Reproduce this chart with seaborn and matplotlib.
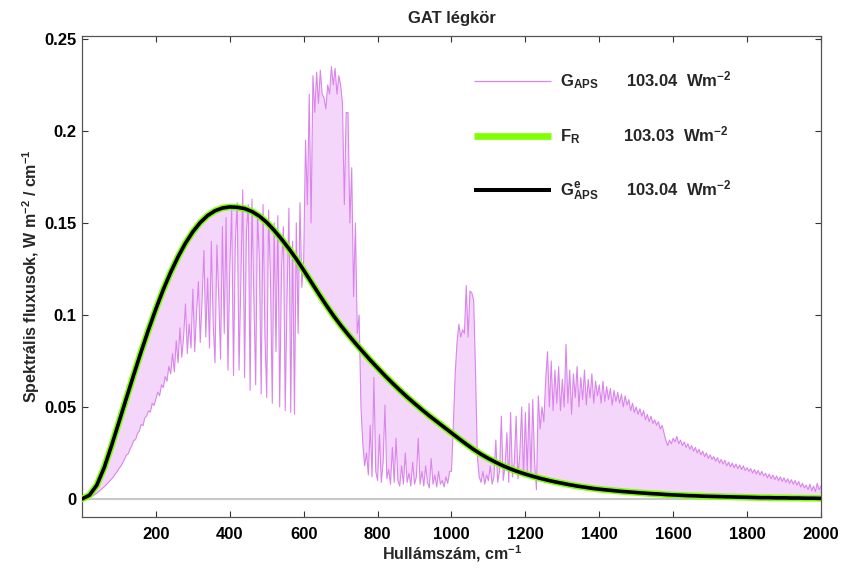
import numpy as np
import pandas as pd
import matplotlib
matplotlib.use("Agg")
import matplotlib.pyplot as plt
import seaborn as sns

# wavenumber grids (cm^-1)
nu_fine = np.arange(0, 2001, 5)
nu_coarse = np.arange(0, 2001, 20)

# G_APS spectrum, every 5 cm^-1 (rows of 50 cm^-1)
g_aps = [
    0.0000, 0.0000, 0.0002, 0.0004, 0.0008, 0.0012, 0.0018, 0.0024, 0.0031, 0.0040,
    0.0048, 0.0057, 0.0066, 0.0076, 0.0086, 0.0097, 0.0108, 0.0120, 0.0135, 0.0148,
    0.0165, 0.0178, 0.0195, 0.0215, 0.0238, 0.0245, 0.0272, 0.0290, 0.0318, 0.0322,
    0.0355, 0.0368, 0.0405, 0.0398, 0.0440, 0.0452, 0.0478, 0.0472, 0.0520, 0.0508,
    0.0545, 0.0580, 0.0560, 0.0620, 0.0605, 0.0665, 0.0640, 0.0720, 0.0680, 0.0790,
    0.0690, 0.0860, 0.0740, 0.0930, 0.0770, 0.0880, 0.1060, 0.0790, 0.0950, 0.0820,
    0.1140, 0.0800, 0.1010, 0.1180, 0.0850, 0.1080, 0.1350, 0.0880, 0.1200, 0.0820,
    0.1400, 0.0950, 0.0740, 0.1380, 0.1100, 0.0760, 0.1480, 0.0900, 0.1530, 0.0700,
    0.1250, 0.1580, 0.0670, 0.1400, 0.1610, 0.0700, 0.1200, 0.1680, 0.0660, 0.1450,
    0.1600, 0.0590, 0.1630, 0.1100, 0.0620, 0.1550, 0.1300, 0.0570, 0.1600, 0.0900,
    0.0550, 0.1570, 0.1200, 0.0520, 0.1500, 0.0800, 0.1540, 0.0500, 0.1250, 0.1480,
    0.0480, 0.1100, 0.1580, 0.0470, 0.1400, 0.0460, 0.1500, 0.0900, 0.1610, 0.1150,
    0.1300, 0.1950, 0.1600, 0.2200, 0.1500, 0.2300, 0.2100, 0.2320, 0.2150, 0.2330,
    0.2200, 0.2180, 0.2120, 0.2250, 0.2200, 0.2350, 0.2250, 0.2340, 0.2200, 0.2300,
    0.2250, 0.2150, 0.1600, 0.2100, 0.2100, 0.1500, 0.1800, 0.1100, 0.1500, 0.0900,
    0.1000, 0.0500, 0.0300, 0.0180, 0.0250, 0.0130, 0.0400, 0.0120, 0.0660, 0.0150,
    0.0100, 0.0350, 0.0090, 0.0200, 0.0510, 0.0110, 0.0160, 0.0080, 0.0280, 0.0090,
    0.0330, 0.0100, 0.0070, 0.0180, 0.0080, 0.0250, 0.0090, 0.0140, 0.0070, 0.0200,
    0.0080, 0.0120, 0.0330, 0.0080, 0.0150, 0.0070, 0.0180, 0.0090, 0.0060, 0.0220,
    0.0080, 0.0130, 0.0065, 0.0150, 0.0080, 0.0100, 0.0065, 0.0120, 0.0085, 0.0150,
    0.0150, 0.0400, 0.0680, 0.0850, 0.0950, 0.0880, 0.0920, 0.0900, 0.1160, 0.0880,
    0.1130, 0.1120, 0.1080, 0.0700, 0.0230, 0.0120, 0.0090, 0.0150, 0.0080, 0.0130,
    0.0100, 0.0180, 0.0080, 0.0120, 0.0320, 0.0090, 0.0150, 0.0450, 0.0100, 0.0180,
    0.0360, 0.0090, 0.0470, 0.0120, 0.0200, 0.0450, 0.0110, 0.0250, 0.0500, 0.0120,
    0.0470, 0.0150, 0.0520, 0.0130, 0.0540, 0.0200, 0.0050, 0.0560, 0.0380, 0.0500,
    0.0420, 0.0650, 0.0800, 0.0500, 0.0750, 0.0480, 0.0700, 0.0520, 0.0720, 0.0480,
    0.0650, 0.0500, 0.0840, 0.0520, 0.0700, 0.0460, 0.0680, 0.0550, 0.0720, 0.0500,
    0.0660, 0.0540, 0.0700, 0.0510, 0.0650, 0.0550, 0.0680, 0.0520, 0.0640, 0.0560,
    0.0620, 0.0520, 0.0640, 0.0530, 0.0610, 0.0540, 0.0600, 0.0510, 0.0590, 0.0530,
    0.0580, 0.0520, 0.0570, 0.0500, 0.0560, 0.0510, 0.0540, 0.0480, 0.0520, 0.0470,
    0.0500, 0.0460, 0.0490, 0.0450, 0.0480, 0.0430, 0.0460, 0.0420, 0.0450, 0.0410,
    0.0430, 0.0400, 0.0420, 0.0380, 0.0400, 0.0360, 0.0320, 0.0290, 0.0320, 0.0300,
    0.0330, 0.0310, 0.0340, 0.0300, 0.0320, 0.0290, 0.0310, 0.0280, 0.0300, 0.0270,
    0.0290, 0.0260, 0.0280, 0.0250, 0.0270, 0.0240, 0.0260, 0.0230, 0.0250, 0.0220,
    0.0240, 0.0215, 0.0230, 0.0205, 0.0225, 0.0195, 0.0215, 0.0190, 0.0210, 0.0180,
    0.0200, 0.0175, 0.0195, 0.0170, 0.0190, 0.0165, 0.0185, 0.0160, 0.0180, 0.0155,
    0.0170, 0.0150, 0.0165, 0.0140, 0.0160, 0.0135, 0.0155, 0.0130, 0.0150, 0.0125,
    0.0140, 0.0115, 0.0135, 0.0110, 0.0130, 0.0105, 0.0125, 0.0100, 0.0120, 0.0095,
    0.0115, 0.0090, 0.0110, 0.0085, 0.0105, 0.0080, 0.0100, 0.0075, 0.0095, 0.0065,
    0.0085, 0.0060, 0.0075, 0.0050, 0.0080, 0.0045, 0.0070, 0.0040, 0.0085, 0.0050,
    0.0070,
]

# G^e_APS (smooth curve), read every 20 cm^-1 (rows of 200 cm^-1)
g_aps_e = [
    0.0000, 0.0020, 0.0075, 0.0170, 0.0290, 0.0418, 0.0547, 0.0675, 0.0800, 0.0920,
    0.1033, 0.1138, 0.1232, 0.1316, 0.1390, 0.1452, 0.1502, 0.1540, 0.1566, 0.1581,
    0.1587, 0.1585, 0.1578, 0.1562, 0.1537, 0.1503, 0.1460, 0.1412, 0.1360, 0.1304,
    0.1243, 0.1180, 0.1117, 0.1056, 0.0998, 0.0944, 0.0894, 0.0846, 0.0800, 0.0755,
    0.0712, 0.0670, 0.0630, 0.0591, 0.0554, 0.0519, 0.0485, 0.0452, 0.0421, 0.0390,
    0.0359, 0.0328, 0.0298, 0.0269, 0.0243, 0.0220, 0.0199, 0.0180, 0.0163, 0.0148,
    0.0135, 0.0123, 0.0112, 0.0102, 0.0093, 0.0085, 0.0077, 0.0070, 0.0064, 0.0058,
    0.0053, 0.0049, 0.0045, 0.0041, 0.0038, 0.0035, 0.0032, 0.0029, 0.0027, 0.0024,
    0.0022, 0.0020, 0.0018, 0.0017, 0.0015, 0.0014, 0.0013, 0.0012, 0.0011, 0.0010,
    0.0009, 0.0008, 0.0007, 0.0007, 0.0006, 0.0006, 0.0005, 0.0005, 0.0004, 0.0004,
    0.0003,
]
# F_R lies on top of G^e_APS in the picture
f_r = list(g_aps_e)

legend_names = [r"G$_{\rm APS}$", r"F$_{\rm R}$", r"G$^{\rm e}_{\rm APS}$"]
legend_values = [r"103.04  Wm$^{-2}$", r"103.03  Wm$^{-2}$", r"103.04  Wm$^{-2}$"]

x_ticks = [200, 400, 600, 800, 1000, 1200, 1400, 1600, 1800, 2000]
y_ticks = [0, 0.05, 0.1, 0.15, 0.2, 0.25]
y_ticklabels = ["0", "0.05", "0.1", "0.15", "0.2", "0.25"]

pink = "#da85ec"
pink_fill = "#f4d6fa"
green = "#80ff00"

sns.set_theme(style="white")
plt.rcParams["font.family"] = ["Liberation Sans", "DejaVu Sans"]
plt.rcParams["font.weight"] = "bold"
plt.rcParams["mathtext.fontset"] = "custom"
plt.rcParams["mathtext.rm"] = "Liberation Sans:bold"
plt.rcParams["mathtext.it"] = "Liberation Sans:bold"
plt.rcParams["mathtext.bf"] = "Liberation Sans:bold"

fig = plt.figure(figsize=(8.42, 5.71), dpi=100)
ax = fig.add_axes([0.0974, 0.0946, 0.8776, 0.8424])

df_fine = pd.DataFrame({"nu": nu_fine, "g": g_aps})
df_coarse = pd.DataFrame({"nu": nu_coarse, "ge": g_aps_e, "fr": f_r})

# shaded region between the spectrum and the smooth curve
ax.fill(np.r_[nu_fine, nu_coarse[::-1]], np.r_[g_aps, g_aps_e[::-1]],
        color=pink_fill, lw=0, zorder=1)
ax.axhline(0, color="#c8c8c8", lw=1.5, zorder=1.5)

sns.lineplot(data=df_fine, x="nu", y="g", ax=ax, color=pink, lw=0.8, zorder=2)
sns.lineplot(data=df_coarse, x="nu", y="fr", ax=ax, color=green, lw=4.8, zorder=3)
sns.lineplot(data=df_coarse, x="nu", y="ge", ax=ax, color="black", lw=2.6, zorder=4)

ax.set_xlim(0, 2000)
ax.set_ylim(-0.0098, 0.2516)
ax.set_xticks(x_ticks)
ax.set_xticklabels([str(t) for t in x_ticks])
ax.set_yticks(y_ticks)
ax.set_yticklabels(y_ticklabels)
ax.tick_params(direction="in", length=4, width=0.8, colors="#333333",
               top=True, right=True, bottom=True, left=True, labelsize=12)
ax.tick_params(axis="x", pad=7)
ax.tick_params(axis="y", pad=4)
for lab in ax.get_xticklabels() + ax.get_yticklabels():
    lab.set_fontweight("bold")
    lab.set_color("black")
for sp in ax.spines.values():
    sp.set_color("#555555")
    sp.set_linewidth(0.9)

ax.set_title("GAT légkör", fontsize=12, fontweight="bold", pad=9)
ax.set_xlabel(r"Hullámszám, cm$^{-1}$", fontsize=11.5, fontweight="bold", labelpad=1)
ax.set_ylabel(r"Spektrális fluxusok, W m$^{-2}$ / cm$^{-1}$", fontsize=11.5,
              fontweight="bold", labelpad=1.5)

# hand-made legend, no frame
leg_y = [0.9064, 0.7927, 0.6798]
leg_val_x = [0.7357, 0.7325, 0.7357]
leg_style = [(pink, 0.9), (green, 4.8), ("black", 2.9)]
for yy, vx, (c, w), name, val in zip(leg_y, leg_val_x, leg_style,
                                     legend_names, legend_values):
    ax.plot([0.5304, 0.6342], [yy, yy], transform=ax.transAxes, color=c, lw=w,
            solid_capstyle="butt")
    ax.text(0.6468, yy - 0.0115, name, transform=ax.transAxes, fontsize=12,
            va="baseline", ha="left")
    ax.text(vx, yy - 0.0115, val, transform=ax.transAxes, fontsize=12,
            va="baseline", ha="left")

fig.savefig("out.png", dpi=100)
